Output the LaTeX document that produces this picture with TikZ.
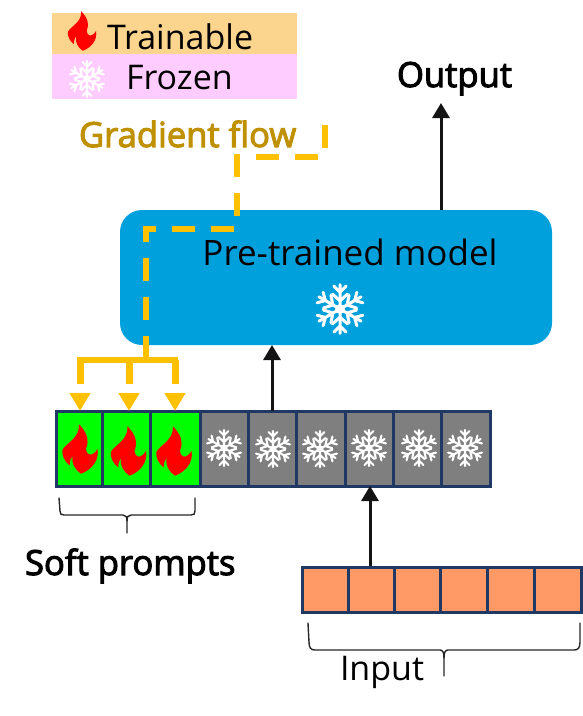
\documentclass[tikz,border=0pt]{standalone}
\usepackage{fontspec}
\setmainfont{Open Sans}
\newfontfamily\semifont[FakeBold=3]{Open Sans}
\usetikzlibrary{arrows.meta}
\definecolor{navy}{HTML}{1F3864}
\definecolor{modelblue}{HTML}{00A0DC}
\definecolor{grad}{HTML}{FFC000}
\definecolor{gradtxt}{HTML}{BF9000}
\definecolor{legA}{HTML}{FBD58E}
\definecolor{legB}{HTML}{FFCCFF}
\definecolor{cellgreen}{HTML}{00FF00}
\definecolor{cellgray}{HTML}{7F7F7F}
\definecolor{cellorange}{HTML}{FF9966}
\tikzset{
  x=1pt,y=-1pt,
  cellbox/.style={draw=navy,line width=3pt,minimum height=75pt,inner sep=0pt,outer sep=0pt,anchor=north west},
  incell/.style={draw=navy,line width=3pt,fill=cellorange,minimum height=45pt,inner sep=0pt,outer sep=0pt,anchor=north west},
  legbox/.style={inner sep=0pt,outer sep=0pt,anchor=north west,minimum width=245pt},
  lab/.style={inner sep=0pt,outer sep=0pt,anchor=base west,font=\fontsize{34}{36}\selectfont,text=black},
  semilab/.style={lab,font=\semifont\fontsize{34.6}{36}\selectfont},
  blackarrow/.style={line width=3pt,color=black!92,-{Triangle[length=15pt,width=17pt]}},
  gradline/.style={line width=5.5pt,color=grad,dash pattern=on 23pt off 16pt},
  gradsolid/.style={line width=6pt,color=grad},
  gradarrow/.style={line width=7pt,color=grad,dash pattern=on 24pt off 40pt,-{Triangle[length=18pt,width=20pt]}},
  bracep/.style={line width=1.4pt,color=black!85,line cap=round},
  flame/.pic={
    \fill[red,scale=1.03] (-1,-24) .. controls (7,-16) and (9,-8) .. (6,-1)
      .. controls (5,3) and (9,7) .. (12,5)
      .. controls (14,4) and (16,2) .. (17,0)
      .. controls (19,10) and (12,20) .. (1,24)
      .. controls (-4,21) and (-9,14) .. (-7,6)
      .. controls (-9,9) and (-10,12) .. (-10,16)
      .. controls (-15,12) and (-18,6) .. (-17,1)
      .. controls (-15,-5) and (0,-10) .. (-1,-24) -- cycle;
  },
  pics/flake/.style={code={
    \foreach \a in {0,60,...,300}{
      \draw[rotate=\a,white,line width=#1,line cap=round]
        (0,0) -- (0,-18)
        (-4.5,-17) -- (0,-12.5) -- (4.5,-17)
        (-5.5,-11) -- (0,-6) -- (5.5,-11);
    }
    \fill[white] (0,0) circle (3.6);
  }}
}
\begin{document}
\begin{tikzpicture}
\useasboundingbox (0,0) rectangle (582,716);
% legend
\node[legbox,fill=legA,minimum height=41pt] (legtop) at (52,13) {};
\node[legbox,fill=legB,minimum height=45pt] (legbot) at (52,54) {};
\pic[scale=0.8] at (82,31) {flame};
\pic[scale=1.0] at (87,79) {flake=2.1pt};
\node[lab] (trainable) at (107,49) {Trainable};
\node[lab] (frozen) at (126,89) {Frozen};
\node[semilab,text=gradtxt] (gradlab) at (79,147) {Gradient flow};
\node[semilab] (outlab) at (397,87) {Output};
% model
\node[draw=none,fill=modelblue,rounded corners=22pt,minimum width=432pt,minimum height=135pt,inner sep=0pt,outer sep=0pt,anchor=north west] (model) at (120,210) {};
\node[lab,anchor=base,font=\fontsize{35}{36}\selectfont] (modellab) at (350,265) {Pre-trained model};
\pic[scale=1.35] at (340,309) {flake=3pt};
% cells
\node[cellbox,fill=cellgreen,minimum width=46pt] (c1) at (56,411) {};
\node[cellbox,fill=cellgreen,minimum width=48pt] (c2) at (102,411) {};
\node[cellbox,fill=cellgreen,minimum width=50pt] (c3) at (150,411) {};
\node[cellbox,fill=cellgray,minimum width=48pt] (c4) at (200,411) {};
\node[cellbox,fill=cellgray,minimum width=48pt] (c5) at (248,411) {};
\node[cellbox,fill=cellgray,minimum width=49pt] (c6) at (296,411) {};
\node[cellbox,fill=cellgray,minimum width=48pt] (c7) at (345,411) {};
\node[cellbox,fill=cellgray,minimum width=48pt] (c8) at (393,411) {};
\node[cellbox,fill=cellgray,minimum width=49pt] (c9) at (441,411) {};
\pic at (80,449) {flame};
\pic at (128.5,451) {flame};
\pic at (174,451) {flame};
\pic at (224,448) {flake=2.1pt};
\pic at (273,449) {flake=2.1pt};
\pic at (320,449) {flake=2.1pt};
\pic at (369,448) {flake=2.1pt};
\pic at (419,448) {flake=2.1pt};
\pic at (465,448) {flake=2.1pt};
% input row
\node[incell,minimum width=46pt] (i1) at (302,567) {};
\node[incell,minimum width=47pt] (i2) at (348,567) {};
\node[incell,minimum width=46pt] (i3) at (394,567) {};
\node[incell,minimum width=47pt] (i4) at (440,567) {};
\node[incell,minimum width=47pt] (i5) at (487,567) {};
\node[incell,minimum width=47pt] (i6) at (534,567) {};
% black arrows
\coordinate (outtip) at (441,103);
\draw[blackarrow] (model.north -| outtip) -- (outtip);
\draw[blackarrow] (c5.north) -- (c5.north |- model.south);
\coordinate (inx) at (370,566);
\draw[blackarrow] (inx) -- (inx |- c7.south);
% gradient flow
\coordinate (g0) at (325,125);
\coordinate (g1) at (325,157);
\coordinate (g2) at (237,157);
\coordinate (g3) at (237,229);
\coordinate (g4) at (146,229);
\coordinate (g5) at (146,346);
\draw[gradline] (g0) -- (g1) -- (g2) -- (g3) -- (g4) -- (g5);
\coordinate (j) at (146,360);
\coordinate (a1) at (80,360);
\coordinate (a2) at (129,360);
\coordinate (a3) at (175,360);
\draw[gradsolid] (g5) -- (j);
\draw[gradsolid] (77,360) -- (178,360);
\draw[gradarrow] (a1) -- (a1 |- c1.north);
\draw[gradarrow] (a2) -- (a2 |- c2.north);
\draw[gradarrow] (a3) -- (a3 |- c3.north);
% braces
\draw[bracep] (59,498) -- (60,511) .. controls (60,514) and (61,515) .. (64,515) -- (123,515) .. controls (126,515) and (127,517) .. (127,521) -- (127,533);
\draw[bracep] (195,498) -- (195,511) .. controls (195,514) and (194,515) .. (191,515) -- (131,515) .. controls (128,515) and (127,517) .. (127,521);
\node[semilab] (softlab) at (25,575) {Soft prompts};
\draw[bracep] (308,623) -- (309,642) .. controls (309,648) and (311,650) .. (315,650) -- (440,650) .. controls (443,650) and (444,653) .. (444,658) -- (444,676);
\draw[bracep] (580,623) -- (580,642) .. controls (580,648) and (578,650) .. (574,650) -- (448,650) .. controls (445,650) and (444,653) .. (444,658);
\node[lab] (inputlab) at (340,680) {Input};
\end{tikzpicture}
\end{document}
